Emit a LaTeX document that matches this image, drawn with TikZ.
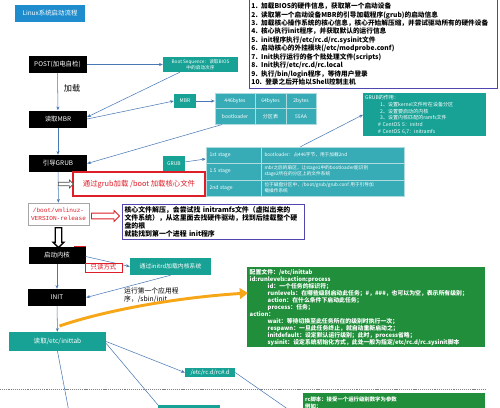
\documentclass[tikz,border=0pt]{standalone}
\usepackage{fontspec}
\setmainfont{Noto Sans CJK SC}
\newfontfamily\monofnt{Liberation Mono}
\usetikzlibrary{shapes.arrows,arrows.meta}
\definecolor{titleblue}{RGB}{30,140,205}
\definecolor{tealbox}{RGB}{24,162,150}
\definecolor{tablecell}{RGB}{56,172,182}
\definecolor{tableline}{RGB}{175,218,222}
\definecolor{cfggreen}{RGB}{32,142,58}
\definecolor{linkblue}{RGB}{72,120,180}
\definecolor{notered}{RGB}{222,30,40}
\definecolor{noteblue}{RGB}{80,70,175}
\definecolor{floworange}{RGB}{246,166,22}
\newdimen\pxu \pxu=0.03cm
\newcommand{\fsz}[2]{\fontsize{#1}{#2}\selectfont}

\begin{document}
\begin{tikzpicture}[x=0.03cm, y=-0.03cm,
    stagebox/.style={fill=black, text=white, minimum width=58\pxu, minimum height=17\pxu, inner sep=0pt, font=\fsz{5.5}{6}},
    tealnode/.style={fill=tealbox, text=white, inner sep=0pt},
    cell/.style={fill=tablecell, draw=tableline, line width=0.5pt, text=white, inner sep=1pt},
    link/.style={draw=linkblue, line width=0.45pt},
    linkto/.style={link, -{Stealth[length=3.2pt, width=2.6pt]}},
    hollow/.style={single arrow, fill=white, single arrow head extend=2\pxu}]

\useasboundingbox (0,0) rectangle (500,407);

% ---------------- title and the ten steps
\node[fill=titleblue, text=white, minimum width=70\pxu, minimum height=17\pxu, inner sep=0pt, font=\fsz{5.5}{6}] (title) at (50,13.5) {Linux系统启动流程};
\node[draw=noteblue, line width=0.8pt, anchor=north west, minimum width=248\pxu, minimum height=89\pxu,
      text width=244\pxu, inner sep=1.5\pxu, align=left, font=\fsz{5.7}{7.2}\bfseries] (steps) at (249,-1)
  {1. 加载BIOS的硬件信息，获取第一个启动设备\\
   2. 读取第一个启动设备MBR的引导加载程序(grub)的启动信息\\
   3. 加载核心操作系统的核心信息，核心开始解压缩，并尝试驱动所有的硬件设备\\
   4. 核心执行init程序，并获取默认的运行信息\\
   5. init程序执行/etc/rc.d/rc.sysinit文件\\
   6. 启动核心的外挂模块(/etc/modprobe.conf)\\
   7. Init执行运行的各个批处理文件(scripts)\\
   8. Init执行/etc/rc.d/rc.local\\
   9. 执行/bin/login程序，等待用户登录\\
   10. 登录之后开始以Shell控制主机};

% ---------------- main column
\node[stagebox] (post) at (57.5,64.5) {POST(加电自检)};
\node[stagebox] (mbrread) at (58,119) {读取MBR};
\node[stagebox] (grubread) at (58,163.5) {引导GRUB};
\node[draw=gray!70, line width=0.5pt, fill=white, minimum width=61\pxu, minimum height=22\pxu, inner sep=0pt,
      align=center, text=notered, font=\monofnt\fsz{5.2}{6.6}] (vmlinuz) at (58.5,214) {/boot/vmlinuz-\\VERSION-release};
\node[stagebox, minimum width=57\pxu, font=\fsz{5.5}{6}\itshape] (kernel) at (57,255.5) {启动内核};
\node[stagebox] (init) at (57,297.5) {INIT};
\node[tealnode, minimum width=97\pxu, minimum height=19\pxu, font=\fsz{5.6}{6}] (inittab) at (57.5,341.5) {读取/etc/inittab};
\node[font=\fsz{7}{8}] (loadlab) at (72,88) {加载};

% ---------------- BIOS and MBR
\node[tealnode, minimum width=75\pxu, minimum height=15\pxu, align=center, font=\fsz{4}{5}] (bootseq) at (200.5,64.5) {Boot Sequence：读取BIOS\\中的启动次序};
\node[tealnode, minimum width=22\pxu, minimum height=14\pxu, font=\fsz{4.3}{5}] (mbr) at (185,101) {MBR};
\foreach \toptxt/\bottxt/\cx/\w [count=\i] in {446bytes/bootloader/235/40, 64bytes/分区表/270.5/31, 2bytes/55AA/301/30} {
  \node[cell, minimum width=\w\pxu, minimum height=15.5\pxu, font=\fsz{4.3}{5}] (mbrtop\i) at (\cx,101) {\toptxt};
  \node[cell, minimum width=\w\pxu, minimum height=15.5\pxu, font=\fsz{4.3}{5}] (mbrbot\i) at (\cx,116.5) {\bottxt};
}

% ---------------- GRUB stages
\node[tealnode, minimum width=22\pxu, minimum height=15\pxu, font=\fsz{4.3}{5}] (grub) at (174,163.5) {GRUB};
\foreach \name/\cy/\h/\txt [count=\i] in {1st stage/155/16/{bootloader：占446字节，用于加载2nd},
    1.5 stage/171.5/17/{mbr之后的扇区，让stage1中的bootloader能识别\\stage2所在的分区上的文件系统},
    2nd stage/188/16/{位于磁盘分区中，/boot/grub/grub.conf 用于引导加\\载操作系统}} {
  \node[cell, minimum width=55\pxu, minimum height=\h\pxu, text width=48\pxu, align=left, font=\fsz{4.3}{5}] (stage\i) at (233.5,\cy) {\name};
  \node[cell, minimum width=143\pxu, minimum height=\h\pxu, text width=136\pxu, align=left, font=\fsz{4}{5}] (stagedesc\i) at (332.5,\cy) {\txt};
}
\node[tealnode, anchor=north west, minimum width=123\pxu, minimum height=43\pxu, text width=119\pxu, inner sep=2\pxu,
      align=left, font=\fsz{4.3}{5.7}] (grubinfo) at (363,93)
  {GRUB的作用：\\
   \hspace*{15\pxu}1、设置kernel文件所在设备分区\\
   \hspace*{15\pxu}2、设置要启动的内核\\
   \hspace*{15\pxu}3、设置内核匹配的ramfs文件\\
   \hspace*{13\pxu}\# CentOS 5：initrd\\
   \hspace*{13\pxu}\# CentOS 6,7：initramfs};
\node[draw=notered, line width=1pt, fill=white, minimum width=132\pxu, minimum height=24\pxu, inner sep=0pt,
      text=notered, font=\fsz{6.3}{7}] (grubload) at (139,184) {通过grub加载 /boot 加载核心文件};

% ---------------- kernel and init
\node[draw=noteblue, line width=0.8pt, minimum width=182\pxu, minimum height=35\pxu, text width=177\pxu, inner sep=2\pxu,
      align=left, font=\fsz{5.9}{6.9}\bfseries] (kernelnote) at (213,221.5)
  {核心文件解压，会尝试找 initramfs文件（虚拟出来的\\
   文件系统），从这里面去找硬件驱动，找到后挂载整个硬\\
   盘的根\\
   就能找到第一个进程 init程序};
\node[tealnode, minimum width=81\pxu, minimum height=17\pxu, font=\fsz{5}{6}] (initrd) at (170.5,266.5) {通过initrd加载内核系统};
\node[anchor=north west, align=left, inner sep=0pt, font=\fsz{5.8}{7}] (initnote) at (124,287) {运行第一个应用程\\序，/sbin/init};

% ---------------- inittab and rc
\node[fill=cfggreen, text=white, anchor=north west, minimum width=238\pxu, minimum height=80\pxu, text width=233\pxu,
      inner sep=2\pxu, align=left, font=\fsz{5}{5.95}\bfseries] (cfg) at (247,267)
  {配置文件：/etc/inittab\\
   id:runlevels:action:process\\
   \hspace*{18\pxu}id：一个任务的标识符；\\
   \hspace*{18\pxu}runlevels：在哪些级别启动此任务；\#，\#\#\#，也可以为空，表示所有级别；\\
   \hspace*{18\pxu}action：在什么条件下启动此任务；\\
   \hspace*{18\pxu}process：任务；\\
   action：\\
   \hspace*{18\pxu}wait：等待切换至此任务所在的级别时执行一次；\\
   \hspace*{18\pxu}respawn：一旦此任务终止，就自动重新启动之；\\
   \hspace*{18\pxu}initdefault：设定默认运行级别；此时，process省略；\\
   \hspace*{18\pxu}sysinit：设定系统初始化方式，此处一般为指定/etc/rc.d/rc.sysinit脚本};
\node[tealnode, minimum width=50\pxu, minimum height=9\pxu, font=\fsz{5}{5.5}] (rcd) at (210,372.5) {/etc/rc.d/rc\#.d};
\node[tealnode, anchor=north west, minimum width=62\pxu, minimum height=12\pxu] (partbox) at (158,405) {};
\node[fill=cfggreen, text=white, anchor=north west, minimum width=182\pxu, minimum height=25\pxu, text width=178\pxu,
      inner sep=2\pxu, align=left, font=\fsz{4.6}{5.8}\bfseries] (rcnote) at (303,393)
  {rc脚本：接受一个运行级别数字为参数\\例如：\\ \phantom{x}};
\coordinate (down1) at (69,412);
\coordinate (down2) at (292,412);

% ---------------- connectors
\draw[linkto] (post) -- (mbrread);
\draw[linkto] (mbrread) -- (grubread);
\draw[linkto] (grubread) -- (vmlinuz);
\draw[linkto] (kernel) -- (init);
\draw[linkto] (init) -- (inittab);
\draw[linkto] (post) -- (bootseq);
\draw[linkto] ([xshift=17\pxu]bootseq.south west) -- ([yshift=2\pxu]mbrread.east);
\draw[linkto] (mbrread.east) -- (mbr.west);
\draw[linkto] (mbr) -- (mbrtop1);
\draw[linkto] ([xshift=-13\pxu]mbrbot1.south) -- (grubread.east);
\draw[linkto] (grub) -- (stage1);
\draw[linkto] ([xshift=-32\pxu]stagedesc1.north) -- (grubinfo.west);
\draw[linkto] ([yshift=-1\pxu]kernel.east) -- (initrd.west);
\draw[linkto] (initrd.south) -- (init.east);
\draw[linkto] (inittab.east) -- (rcd.west);
\draw[link] ([yshift=-2\pxu]inittab.east) -- (partbox.north west);
\draw[link] (inittab.south) -- (down1);
\draw[link] (rcd.east) -- (down2);

% ---------------- hollow hints, read-only tag, separator
\node[hollow, draw=gray!60!black, line width=0.5pt, inner sep=1.1pt, minimum height=15\pxu, minimum width=8\pxu] (grubhint) at (65,184) {};
\node[hollow, draw=notered, line width=0.7pt, inner sep=1.5pt, minimum height=28\pxu, minimum width=11\pxu] (unpackhint) at (104,216) {};
\node[hollow, draw=black, line width=1.1pt, inner sep=2pt, shape border rotate=270, minimum height=20\pxu, minimum width=11\pxu] (bootkernel) at (58.5,236) {};
\draw[notered, line width=1pt] ([xshift=-12\pxu]kernel.north east) -- (kernel.north east);
\node[draw=notered, line width=0.6pt, fill=white, minimum width=37\pxu, minimum height=9\pxu, inner sep=0pt,
      text=notered, font=\fsz{5.5}{6}] (readonly) at (103.5,267.5) {只读方式};
\draw[gray, line width=0.4pt, dash pattern=on 1pt off 0.8pt] (0,389) -- (487,389);

% ---------------- the orange flow from inittab up to its config file, drawn last
\draw[floworange, line width=2.5pt, -{Triangle[length=7pt, width=9pt]}] (59.5,326) .. controls (100,312) and (170,298) .. (248,293);
\end{tikzpicture}
\end{document}
